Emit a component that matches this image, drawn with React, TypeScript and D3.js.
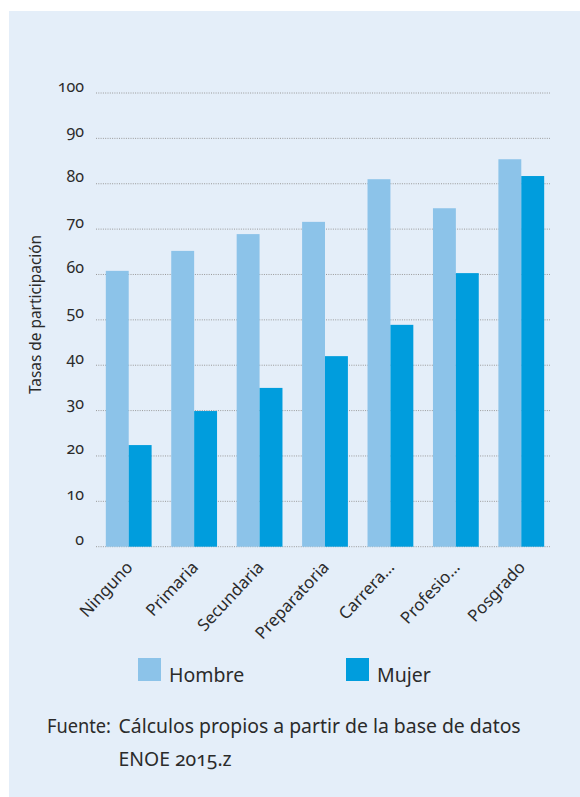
import React from "react";
import * as d3 from "d3";

// Education levels and participation rates (%) by sex
const categories = ["Ninguno", "Primaria", "Secundaria", "Preparatoria", "Carrera…", "Profesio…", "Posgrado"];
const hombre = [60.8, 65.2, 68.9, 71.6, 81.0, 74.6, 85.4];
const mujer = [22.4, 29.9, 35.0, 42.0, 48.9, 60.3, 81.7];
const seriesNames = ["Hombre", "Mujer"];
const seriesColors = ["#8cc3e9", "#009ddd"];
const yTicks = [0, 10, 20, 30, 40, 50, 60, 70, 80, 90, 100];
const yTitle = "Tasas de participación";
const sourceLabel = "Fuente:";
const sourceLines = ["Cálculos propios a partir de la base de datos", "ENOE 2015.z"];

const W = 580;
const H = 797;
const FONT = "'Noto Sans', 'Open Sans', sans-serif";
const TEXT = "#2b2b2b";
const ONUM = { fontFeatureSettings: "'onum' 1" };

export default function App() {
  const x = d3.scaleBand<string>().domain(categories).range([96, 554]).paddingInner(0.3).paddingOuter(0.15);
  const x1 = d3.scaleBand<string>().domain(seriesNames).range([0, x.bandwidth()]);
  const y = d3.scaleLinear().domain([0, 100]).range([546.7, 93]);
  const values = [hombre, mujer];

  return (
    <div style={{ position: "absolute", left: 0, top: 0 }}>
      <svg width={W} height={H} style={{ display: "block", fontFamily: FONT }}>
        <rect x={0} y={0} width={W} height={H} fill="#ffffff" />
        <rect x={9} y={11} width={W - 9} height={H - 11} fill="#e4eef9" />

        {/* grid and value axis */}
        {yTicks.map((t) => (
          <g key={t}>
            <line x1={96} x2={550} y1={y(t)} y2={y(t)} stroke="#999999" strokeWidth={1} strokeDasharray="1,1.3" />
            <text x={84} y={y(t) - 1.5} textAnchor="end" fontSize={16} fill={TEXT} style={ONUM}>
              {t}
            </text>
          </g>
        ))}

        {/* bars */}
        {categories.map((c, i) => (
          <g key={c} transform={`translate(${x(c)},0)`}>
            {seriesNames.map((s, j) => (
              <rect
                key={s}
                x={x1(s)}
                y={y(values[j][i])}
                width={x1.bandwidth()}
                height={y(0) - y(values[j][i])}
                fill={seriesColors[j]}
              />
            ))}
          </g>
        ))}

        {/* category labels */}
        {categories.map((c) => {
          const cx = (x(c) as number) + x.bandwidth() / 2 + 5;
          const cy = 568;
          return (
            <text key={c} transform={`translate(${cx},${cy}) rotate(-47)`} textAnchor="end" fontSize={16.8} fill={TEXT}>
              {c}
            </text>
          );
        })}

        {/* value axis title */}
        <text transform={`translate(41,314.5) rotate(-90)`} textAnchor="middle" fontSize={15.4} fill={TEXT}>
          {yTitle}
        </text>

        {/* legend */}
        {seriesNames.map((s, j) => {
          const lx = [138, 346][j];
          return (
            <g key={s}>
              <rect x={lx} y={658} width={23} height={23} fill={seriesColors[j]} />
              <text x={lx + 31} y={681.5} fontSize={19.5} fill={TEXT}>
                {s}
              </text>
            </g>
          );
        })}

        {/* source */}
        <text x={47} y={733} fontSize={19.4} fill={TEXT} textLength={64} lengthAdjust="spacingAndGlyphs">
          {sourceLabel}
        </text>
        {sourceLines.map((l, i) => (
          <text key={i} x={118.5} y={733 + i * 33} fontSize={19.4} fill={TEXT} style={ONUM}>
            {l}
          </text>
        ))}
      </svg>
    </div>
  );
}
